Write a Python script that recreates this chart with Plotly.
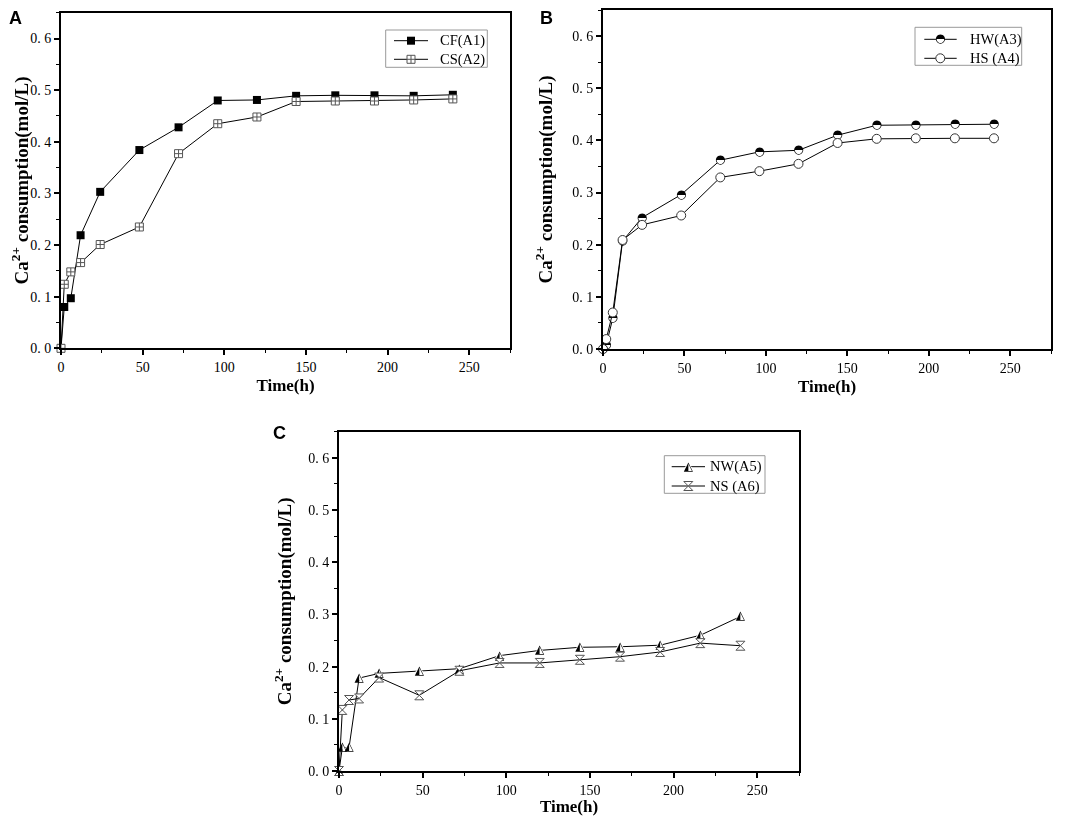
import plotly.graph_objects as go

# sampling times (h)
time_h = [0, 2, 6, 12, 24, 48, 72, 96, 120, 144, 168, 192, 216, 240]

# panel A
cf_a1 = [0, 0.080, 0.097, 0.219, 0.303, 0.384, 0.428, 0.480, 0.481, 0.489, 0.490, 0.490, 0.489, 0.491]
cs_a2 = [0, 0.124, 0.148, 0.166, 0.201, 0.235, 0.377, 0.435, 0.448, 0.478, 0.479, 0.479, 0.481, 0.483]
# panel B
hw_a3 = [0, 0.008, 0.059, 0.207, 0.252, 0.296, 0.362, 0.378, 0.381, 0.410, 0.429, 0.430, 0.431, 0.431]
hs_a4 = [0, 0.019, 0.070, 0.209, 0.238, 0.256, 0.329, 0.341, 0.355, 0.395, 0.403, 0.404, 0.404, 0.404]
# panel C
nw_a5 = [0, 0.045, 0.045, 0.178, 0.187, 0.192, 0.196, 0.221, 0.231, 0.237, 0.238, 0.241, 0.260, 0.296]
ns_a6 = [0, 0.117, 0.136, 0.139, 0.179, 0.145, 0.192, 0.207, 0.207, 0.213, 0.219, 0.228, 0.245, 0.240]

x_ticks = [0, 50, 100, 150, 200, 250]
y_ticks = [0, 0.1, 0.2, 0.3, 0.4, 0.5, 0.6]
y_ticktext = ['0. 0', '0. 1', '0. 2', '0. 3', '0. 4', '0. 5', '0. 6']

# the page keeps an 8px body margin above and left of the plot
OFF = 8
W, H = 1065 - OFF, 816 - OFF
serif = 'Liberation Serif'


def px(x):
    return (x - OFF) / W


def py(y):
    return 1 - (y - OFF) / H


# marker styles
styles = {
    'CF(A1)': dict(symbol='square', size=8, fill='black', edge='black', edgew=0),
    'CS(A2)': dict(symbol='square-cross', size=8, fill='white', edge='#555555', edgew=1),
    'HW(A3)': dict(symbol='circle', size=8, fill='white', edge='white', edgew=0, glyph='\u25d3', gsize=12),
    'HS (A4)': dict(symbol='circle', size=9, fill='white', edge='#333333', edgew=1),
    'NW(A5)': dict(symbol='triangle-up', size=8, fill='white', edge='white', edgew=0, glyph='\u25ed', gsize=12),
    'NS (A6)': dict(symbol='hourglass', size=9, fill='white', edge='#555555', edgew=1),
}

# positions below are in window pixels of the reference
panels = [
    dict(letter='A', lx0=15, ly0=10, ysoff=17, xs=(61, 510), ys=(12.7, 348.3),
         series=[('CF(A1)', cf_a1), ('CS(A2)', cs_a2)],
         box=(385.7, 30, 487.3, 67.3), rows=(40.7, 59.3), lx=(394, 411, 428), tx=437.7),
    dict(letter='B', lx0=546, ly0=10, ysoff=15, xs=(603, 1051), ys=(10, 349),
         series=[('HW(A3)', hw_a3), ('HS (A4)', hs_a4)],
         box=(915, 27.3, 1021.7, 65.3), rows=(39.3, 58.3), lx=(924.3, 940.3, 956.7), tx=967.7),
    dict(letter='C', lx0=279, ly0=433, ysoff=12, xs=(339, 799), ys=(431.7, 771),
         series=[('NW(A5)', nw_a5), ('NS (A6)', ns_a6)],
         box=(664.3, 455.7, 765, 493.3), rows=(466.7, 486), lx=(671.7, 688.3, 705), tx=708.3),
]


def marker_traces(xs, ys, xa, ya, st, with_line=True):
    out = [go.Scatter(
        x=xs, y=ys, xaxis=xa, yaxis=ya,
        mode='lines+markers' if with_line else 'markers',
        line=dict(color='black', width=1),
        marker=dict(symbol=st['symbol'], size=st['size'], color=st['fill'],
                    line=dict(color=st['edge'], width=st['edgew'])),
        showlegend=False, hoverinfo='skip', cliponaxis=False)]
    if st.get('glyph'):
        # half-filled symbol drawn as a glyph on top of the white marker
        out.append(go.Scatter(
            x=xs, y=ys, xaxis=xa, yaxis=ya, mode='text', opacity=0.99,
            text=[st['glyph']] * len(xs), textposition='middle center',
            textfont=dict(family='DejaVu Sans', size=st['gsize'], color='black'),
            showlegend=False, hoverinfo='skip', cliponaxis=False))
    return out


fig = go.Figure()
annotations = []
shapes = []

for i, p in enumerate(panels):
    n = '' if i == 0 else str(i + 1)
    xa, ya = 'x' + n, 'y' + n
    for name, vals in p['series']:
        for tr in marker_traces(time_h, vals, xa, ya, styles[name]):
            fig.add_trace(tr)

    xdom = [px(p['xs'][0]), px(p['xs'][1])]
    ydom = [py(p['ys'][1]), py(p['ys'][0])]
    fig.update_layout(**{
        'xaxis' + n: dict(
            domain=xdom, anchor=ya, range=[0, 275], tickvals=x_ticks,
            ticks='outside', ticklen=5, tickwidth=1.5, tickcolor='black',
            minor=dict(dtick=25, tick0=0, ticks='outside', ticklen=3, tickwidth=1.2, tickcolor='black'),
            showline=True, linewidth=2, linecolor='black', mirror=True,
            showgrid=False, zeroline=False, automargin=False,
            tickfont=dict(family=serif, size=14, color='black'),
            title=dict(text='Time(h)', standoff=5,
                       font=dict(family=serif, size=17, color='black', weight='bold'))),
        'yaxis' + n: dict(
            domain=ydom, anchor=xa, range=[0, 0.65], tickvals=y_ticks, ticktext=y_ticktext,
            ticks='outside', ticklen=5, tickwidth=1.5, tickcolor='black',
            minor=dict(dtick=0.05, tick0=0, ticks='outside', ticklen=3, tickwidth=1.2, tickcolor='black'),
            showline=True, linewidth=2, linecolor='black', mirror=True,
            showgrid=False, zeroline=False, automargin=False,
            tickfont=dict(family=serif, size=14, color='black'),
            title=dict(text='Ca<sup>2+</sup> consumption(mol/L)', standoff=p['ysoff'],
                       font=dict(family=serif, size=19, color='black', weight='bold'))),
    })

    # panel letter (kept inside the drawable area)
    annotations.append(dict(
        x=px(p['lx0']), y=py(max(p['ly0'], OFF + 10)), xref='paper', yref='paper',
        text='<b>%s</b>' % p['letter'], showarrow=False, xanchor='center', yanchor='middle',
        font=dict(family='Liberation Sans', size=18, color='black')))

    # legend box
    bx0, by0, bx1, by1 = p['box']
    shapes.append(dict(type='rect', xref='paper', yref='paper',
                       x0=px(bx0), x1=px(bx1), y0=py(by1), y1=py(by0),
                       line=dict(color='#999999', width=1), fillcolor='white', layer='below'))
    for (name, _), ry in zip(p['series'], p['rows']):
        x0, xc, x1 = p['lx']
        fig.add_trace(go.Scatter(x=[x0 - OFF, x1 - OFF], y=[ry - OFF, ry - OFF], xaxis='x4', yaxis='y4',
                                 mode='lines', line=dict(color='black', width=1),
                                 showlegend=False, hoverinfo='skip'))
        for tr in marker_traces([xc - OFF], [ry - OFF], 'x4', 'y4', styles[name], with_line=False):
            fig.add_trace(tr)
        annotations.append(dict(
            x=px(p['tx']), y=py(ry), xref='paper', yref='paper', text=name,
            showarrow=False, xanchor='left', yanchor='middle',
            font=dict(family=serif, size=14.5, color='black')))

# pixel-space overlay used for the legend samples
fig.update_layout(
    xaxis4=dict(domain=[0, 1], range=[0, W], anchor='y4', visible=False, fixedrange=True),
    yaxis4=dict(domain=[0, 1], range=[H, 0], anchor='x4', visible=False, fixedrange=True),
)

fig.update_layout(
    width=W, height=H, template='none',
    margin=dict(l=0, r=0, t=0, b=0),
    paper_bgcolor='white', plot_bgcolor='rgba(0,0,0,0)',
    showlegend=False, annotations=annotations, shapes=shapes,
)

fig.write_html("out.html")
